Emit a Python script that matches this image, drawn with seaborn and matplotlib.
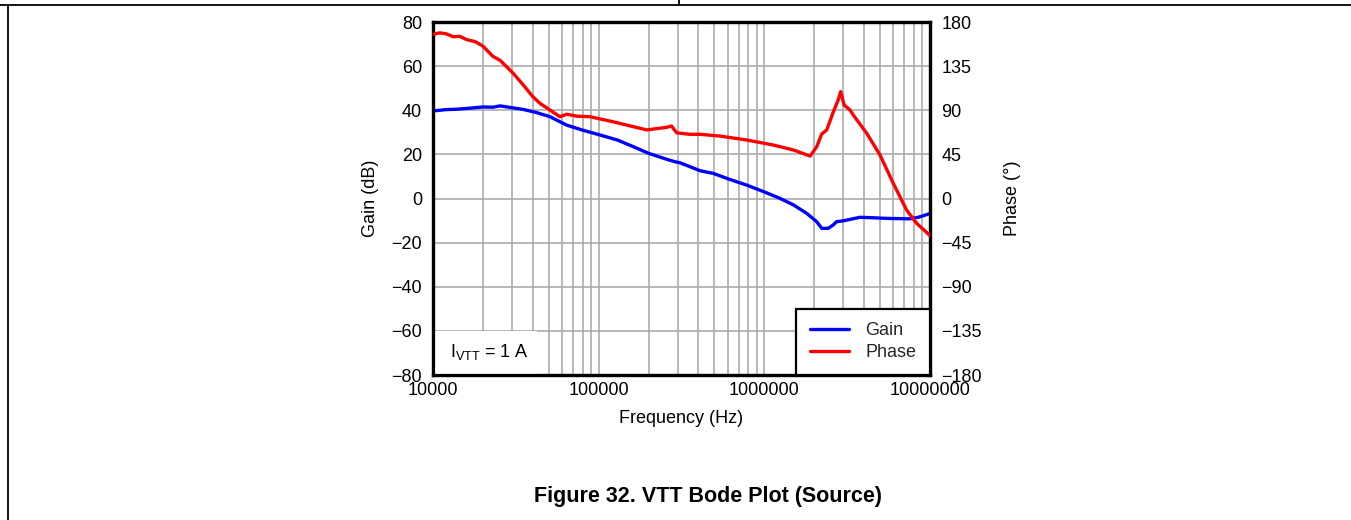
import numpy as np
import pandas as pd
import matplotlib
matplotlib.use("Agg")
import matplotlib.pyplot as plt
import seaborn as sns
from matplotlib.lines import Line2D
from matplotlib.patches import Rectangle
from matplotlib.ticker import FixedLocator, FixedFormatter, LogLocator, NullFormatter

# ---------------- data ----------------
gain_freq = [1.0e4, 1.2e4, 1.4e4, 1.7e4, 2.0e4, 2.3e4, 2.54e4, 2.8e4, 3.5e4, 4.2e4,
             5.08e4, 6.4e4, 8.0e4, 1.02e5, 1.3e5, 1.62e5, 2.0e5, 2.57e5, 2.88e5, 3.1e5,
             4.09e5, 4.92e5, 6.0e5, 7.82e5, 1.0e6, 1.24e6, 1.5e6, 1.8e6, 2.07e6, 2.22e6,
             2.43e6, 2.6e6, 2.73e6, 3.0e6, 3.78e6, 4.5e6, 5.48e6, 7.57e6, 8.5e6, 1.0e7]
gain_db = [39.7, 40.3, 40.5, 41.0, 41.5, 41.4, 42.0, 41.5, 40.4, 39.0,
           37.1, 33.3, 31.0, 28.8, 26.5, 23.5, 20.5, 17.8, 16.7, 16.2,
           12.6, 11.4, 9.0, 6.1, 3.0, 0.1, -2.9, -6.7, -10.5, -13.5,
           -13.5, -12.0, -10.5, -10.1, -8.5, -8.7, -9.0, -9.2, -8.5, -6.8]

phase_freq = [1.0e4, 1.1e4, 1.2e4, 1.33e4, 1.45e4, 1.6e4, 1.8e4, 2.0e4, 2.3e4, 2.54e4,
              3.05e4, 3.5e4, 4.0e4, 4.43e4, 5.08e4, 5.84e4, 6.4e4, 7.4e4, 8.9e4, 1.22e5,
              1.47e5, 1.95e5, 2.57e5, 2.75e5, 2.96e5, 3.56e5, 4.09e5, 5.4e5, 7.82e5, 1.13e6,
              1.5e6, 1.89e6, 2.07e6, 2.22e6, 2.38e6, 2.61e6, 2.79e6, 2.89e6, 3.03e6, 3.29e6,
              3.44e6, 4.15e6, 4.99e6, 6.0e6, 7.22e6, 8.3e6, 9.77e6, 1.0e7]
phase_deg = [167.5, 169.0, 168.0, 165.0, 165.5, 162.0, 160.0, 155.5, 145.0, 141.0,
             127.7, 116.0, 104.0, 97.0, 90.3, 83.4, 86.0, 84.0, 83.4, 78.3,
             75.0, 70.0, 72.6, 74.0, 67.0, 65.5, 65.5, 63.7, 59.7, 54.6,
             49.5, 43.3, 52.8, 65.8, 70.0, 88.5, 100.5, 109.0, 95.4, 90.3,
             85.2, 66.5, 44.4, 15.5, -11.7, -25.3, -36.2, -38.0]

x_ticks = [1e4, 1e5, 1e6, 1e7]
x_tick_labels = ["10000", "100000", "1000000", "10000000"]
gain_ticks = [-80, -60, -40, -20, 0, 20, 40, 60, 80]
phase_ticks = [-180, -135, -90, -45, 0, 45, 90, 135, 180]

gain_df = pd.DataFrame({"Frequency": gain_freq, "Gain": gain_db})
phase_df = pd.DataFrame({"Frequency": phase_freq, "Phase": phase_deg})

# ---------------- style ----------------
sns.set_theme(style="white")
plt.rcParams["font.family"] = ["Liberation Sans", "DejaVu Sans"]
plt.rcParams["font.size"] = 13
plt.rcParams["axes.unicode_minus"] = True

FS = 13

fig = plt.figure(figsize=(13.51, 5.20), dpi=100)
ax = fig.add_axes([0.3205, 0.2788, 0.3679, 0.6788])
ax2 = ax.twinx()

sns.lineplot(data=gain_df, x="Frequency", y="Gain", ax=ax, color="#0000ff",
             lw=2.4, legend=False, zorder=5)
sns.lineplot(data=phase_df, x="Frequency", y="Phase", ax=ax2, color="#ff0000",
             lw=2.4, legend=False, zorder=5)

ax.set_xscale("log")
ax.set_xlim(1e4, 1e7)
ax.set_ylim(-80, 80)
ax2.set_ylim(-180, 180)

ax.xaxis.set_major_locator(FixedLocator(x_ticks))
ax.xaxis.set_major_formatter(FixedFormatter(x_tick_labels))
ax.xaxis.set_minor_locator(LogLocator(base=10, subs=np.arange(2, 10)))
ax.xaxis.set_minor_formatter(NullFormatter())
ax.set_yticks(gain_ticks)
ax2.set_yticks(phase_ticks)

grid_color = "#ababab"
ax.grid(True, which="major", axis="both", color=grid_color, lw=1.2)
ax.grid(True, which="minor", axis="x", color=grid_color, lw=1.2)
ax.set_axisbelow(True)

ax.tick_params(axis="both", which="both", length=0, labelsize=FS, colors="black")
ax.tick_params(axis="y", pad=8)
ax.tick_params(axis="x", pad=5)
ax2.tick_params(axis="y", length=0, labelsize=FS, pad=8, colors="black")

ax.set_xlabel("Frequency (Hz)", fontsize=FS, color="black", labelpad=8)
ax.set_ylabel("Gain (dB)", fontsize=FS, color="black", labelpad=9)
ax2.set_ylabel("Phase (°)", fontsize=FS, color="black", labelpad=16)

for a in (ax, ax2):
    for s in a.spines.values():
        s.set_color("black")
        s.set_linewidth(2.3)
ax2.patch.set_visible(False)

# annotation box
ax.add_patch(Rectangle((0, 0), 0.209, 0.125, transform=ax.transAxes,
                       facecolor="white", edgecolor="none", zorder=3))
ax.text(0.034, 0.065, r"I$_{\mathregular{VTT}}$ = 1 A", transform=ax.transAxes,
        fontsize=FS, va="center", ha="left", zorder=4, color="black")

handles = [Line2D([], [], color="#0000ff", lw=2.4),
           Line2D([], [], color="#ff0000", lw=2.4)]
leg = ax2.legend(handles, ["Gain", "Phase"], loc="lower right", borderaxespad=0,
                 fancybox=False, frameon=True, fontsize=FS, handlelength=2.2,
                 handletextpad=0.9, borderpad=0.75, labelspacing=0.3)
leg.get_frame().set_edgecolor("black")
leg.get_frame().set_linewidth(1.6)
leg.get_frame().set_alpha(1)

# page decorations
fig.add_artist(Line2D([0, 1], [0.9904, 0.9904], color="black", lw=1.3,
                      transform=fig.transFigure))
fig.add_artist(Line2D([0.0059, 0.0059], [0, 0.9904], color="black", lw=1.3,
                      transform=fig.transFigure))
fig.add_artist(Line2D([0.5026, 0.5026], [0.9904, 1.0], color="black", lw=1.3,
                      transform=fig.transFigure))

fig.text(0.5237, 0.046, "Figure 32. VTT Bode Plot (Source)", ha="center",
         va="center", fontsize=15.5, fontweight="bold", color="black")

fig.savefig("out.png", dpi=100, facecolor="white")
